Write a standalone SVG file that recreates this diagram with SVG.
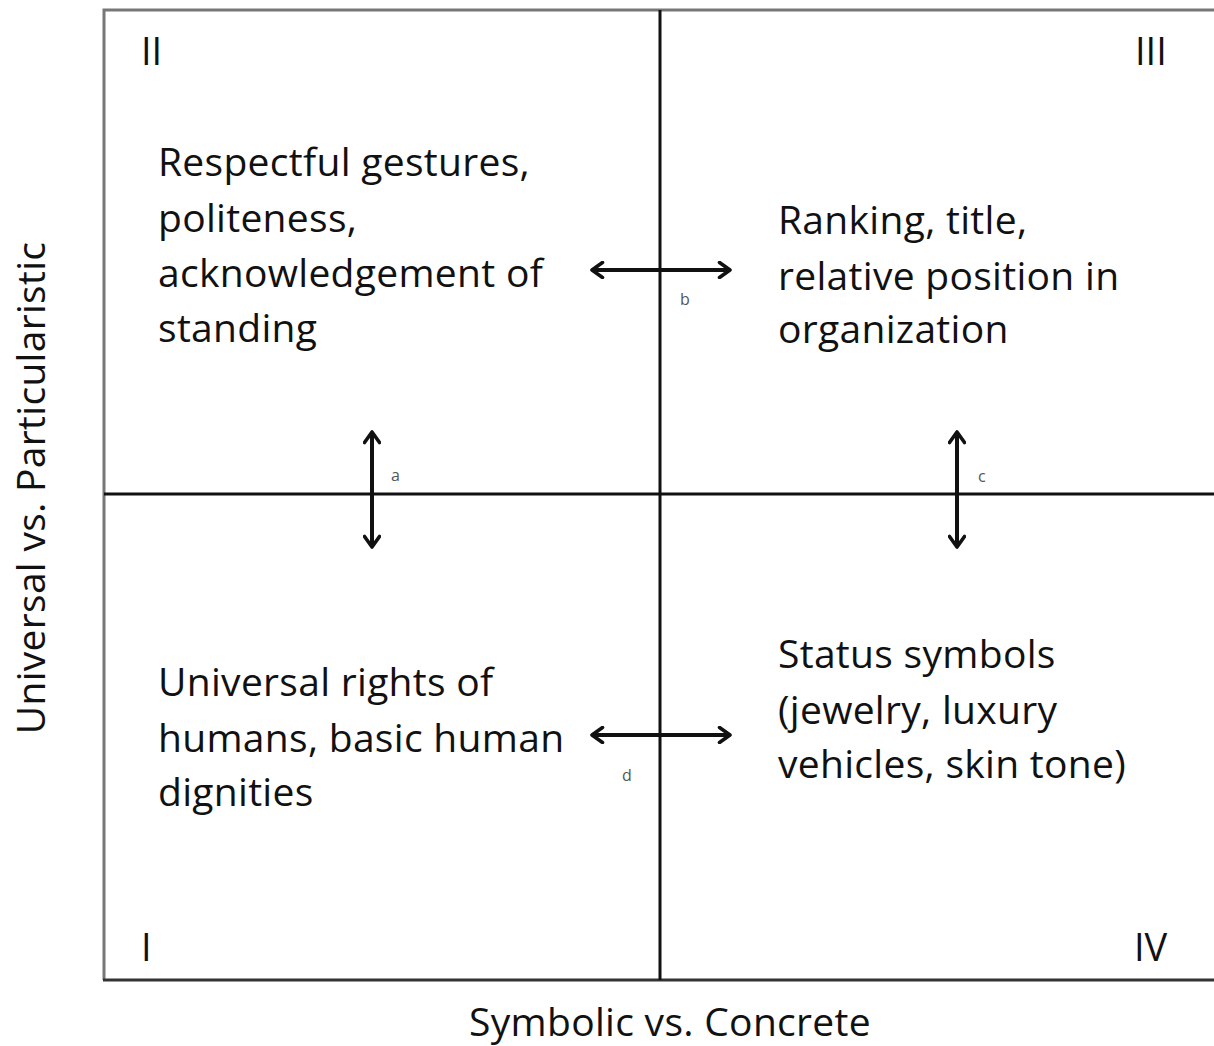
<svg xmlns="http://www.w3.org/2000/svg" width="1214" height="1046" viewBox="0 0 1214 1046">
<style>
.t{font-family:"Open Sans","Liberation Sans",sans-serif;font-size:39px;letter-spacing:0.3px;fill:#111}
.r{font-family:"Open Sans","Liberation Sans",sans-serif;font-size:38px;fill:#111}
.s{font-family:"Open Sans","Liberation Sans",sans-serif;font-size:16px;fill:#555}
.ax{stroke:#111;stroke-width:3;fill:none}
.ar{stroke:#111;stroke-width:4;fill:none}
</style>
<defs>
<marker id="h" viewBox="0 0 12 12" refX="10" refY="6" markerWidth="4.5" markerHeight="4.5" orient="auto-start-reverse" markerUnits="strokeWidth">
<path d="M3,1 L10,6 L3,11" fill="none" stroke="#111" stroke-width="2.4" stroke-linecap="round" stroke-linejoin="round"/>
</marker>
</defs>
<rect width="1214" height="1046" fill="#fff"/>
<g id="frame">
<path d="M104,980 L104,10 L1214,10" fill="none" stroke="#777" stroke-width="3"/>
<line x1="103" y1="980" x2="1214" y2="980" stroke="#333" stroke-width="3"/>
<line x1="660" y1="10" x2="660" y2="980" class="ax"/>
<line x1="104" y1="494" x2="1214" y2="494" class="ax"/>
</g>
<g id="numerals">
<text class="r" x="141" y="65">II</text>
<text class="r" x="1135" y="65">III</text>
<text class="r" x="141" y="961">I</text>
<text class="r" x="1134" y="961">IV</text>
</g>
<g id="q2"><text class="t"><tspan x="158" y="176">Respectful gestures,</tspan><tspan x="158" y="232">politeness,</tspan><tspan x="158" y="287">acknowledgement of</tspan><tspan x="158" y="342">standing</tspan></text></g>
<g id="q3"><text class="t"><tspan x="778" y="234">Ranking, title,</tspan><tspan x="778" y="290">relative position in</tspan><tspan x="778" y="343">organization</tspan></text></g>
<g id="q1"><text class="t"><tspan x="158" y="696">Universal rights of</tspan><tspan x="158" y="752">humans, basic human</tspan><tspan x="158" y="806">dignities</tspan></text></g>
<g id="q4"><text class="t"><tspan x="778" y="668">Status symbols</tspan><tspan x="778" y="724">(jewelry, luxury</tspan><tspan x="778" y="778">vehicles, skin tone)</tspan></text></g>
<g id="connectors">
<line x1="592" y1="270" x2="730" y2="270" class="ar" marker-start="url(#h)" marker-end="url(#h)"/>
<line x1="592" y1="735" x2="730" y2="735" class="ar" marker-start="url(#h)" marker-end="url(#h)"/>
<line x1="372" y1="432" x2="372" y2="547" class="ar" marker-start="url(#h)" marker-end="url(#h)"/>
<line x1="957" y1="432" x2="957" y2="547" class="ar" marker-start="url(#h)" marker-end="url(#h)"/>
</g>
<g id="labels">
<text class="s" x="680" y="305">b</text>
<text class="s" x="391" y="481">a</text>
<text class="s" x="978" y="482">c</text>
<text class="s" x="622" y="781">d</text>
</g>
<g id="axes">
<text class="t" x="670" y="1036" text-anchor="middle">Symbolic vs. Concrete</text>
<text class="t" transform="translate(45,488) rotate(-90)" text-anchor="middle">Universal vs. Particularistic</text>
</g>
</svg>
